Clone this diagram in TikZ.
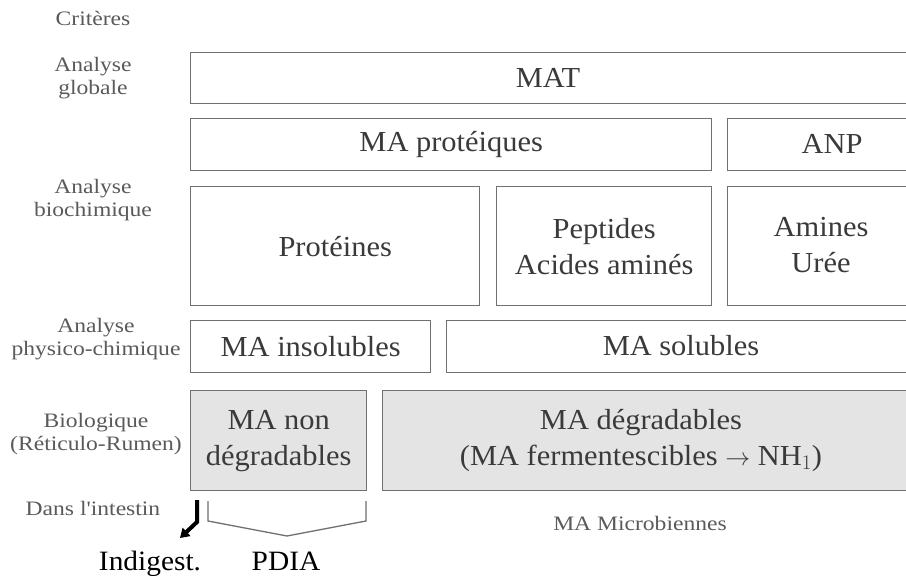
\documentclass[tikz,border=0pt]{standalone}
\usepackage{fontspec}
\setmainfont{Liberation Serif}
\newfontfamily\labfont[FakeStretch=1.15]{Liberation Serif}
\newfontfamily\boxfont[FakeStretch=1.05]{Liberation Serif}
\usetikzlibrary{arrows.meta}
\definecolor{boxline}{HTML}{707070}
\definecolor{boxtext}{HTML}{3A3A3A}
\definecolor{labtext}{HTML}{5A5A5A}
\definecolor{boxfill}{HTML}{E4E4E4}
\tikzset{
  btext/.style={text=boxtext, align=center, font=\boxfont\fontsize{29}{36}\selectfont},
  box/.style={btext, draw=boxline, line width=1.4pt, anchor=north west, inner sep=0pt},
  grbox/.style={box, fill=boxfill},
  lab/.style={text=labtext, align=center, font=\labfont\fontsize{20.5}{23}\selectfont},
  bottomtext/.style={text=black, inner sep=0pt, font=\boxfont\fontsize{28}{30}\selectfont},
}
\begin{document}
\begin{tikzpicture}[x=1pt,y=-1pt]
\useasboundingbox (0,0) rectangle (906,576);
\fill[white] (0,0) rectangle (906,576);
% left labels
\node[lab] (crit) at (93,18) {Critères};
\node[lab] (glob) at (93,78) {Analyse\\globale};
\node[lab] (bioc) at (93,200) {Analyse\\biochimique};
\node[lab] (phys) at (96,339) {Analyse\\physico-chimique};
\node[lab] (biol) at (96,434) {Biologique\\(Réticulo-Rumen)};
\node[lab] (inte) at (93,508) {Dans l'intestin};
% boxes
\node[box, minimum width=725, minimum height=51] (mat) at (190,52) {};
\node[btext] (matt) at (548,78) {MAT};
\node[box, minimum width=521, minimum height=52] (prot) at (190,118) {MA protéiques};
\node[box, minimum width=190, minimum height=52] (anp) at (727,118) {};
\node[btext] (anpt) at (832,144) {ANP};
\node[box, minimum width=289, minimum height=119] (prn) at (190,186) {Protéines};
\node[box, minimum width=215, minimum height=119] (pep) at (496,186) {Peptides\\Acides aminés};
\node[box, minimum width=190, minimum height=119] (ami) at (727,186) {};
\node[btext] (amit) at (821,245) {Amines\\Urée};
\node[box, minimum width=240, minimum height=52] (ins) at (190,320) {MA insolubles};
\node[box, minimum width=470, minimum height=52] (sol) at (446,320) {};
\node[btext] (solt) at (681,346) {MA solubles};
\node[grbox, minimum width=176, minimum height=100] (nond) at (190,390) {MA non\\dégradables};
\node[grbox, minimum width=535, minimum height=100] (deg) at (382,390) {};
\node[btext] (degt) at (641,440) {MA dégradables\\(MA fermentescibles $\rightarrow$ NH$_1$)};
% bottom
\node[lab] (micro) at (640,523) {MA Microbiennes};
\node[bottomtext, anchor=base] (indig) at (150,570) {Indigest.};
\node[bottomtext, anchor=base] (pdia) at (286,570) {PDIA};
\coordinate (a0) at (197,500);
\coordinate (a1) at (197,522);
\coordinate (a2) at (180,538);
\draw[line width=4pt, -{Triangle[length=9pt,width=11pt]}] (a0) -- (a1) -- (a2);
\draw[boxline, line width=1.3pt] (208,501) -- (208,521) -- (287,536) -- (366,521) -- (366,501);
\end{tikzpicture}
\end{document}
